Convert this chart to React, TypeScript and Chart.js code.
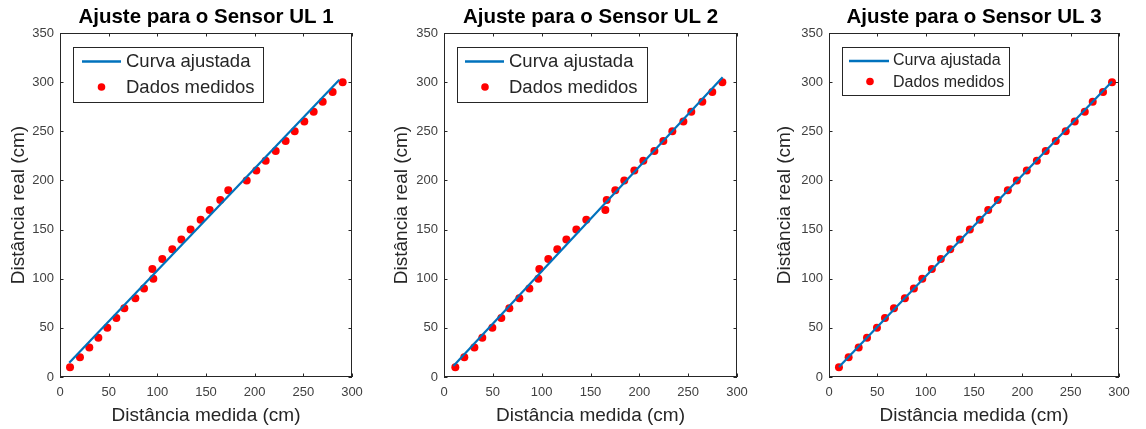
import React, { useEffect, useRef } from "react";
import { Chart, registerables } from "chart.js";

Chart.register(...registerables);

// ---- Data ----
const realDist = [10, 20, 30, 40, 50, 60, 70, 80, 90, 100, 110, 120, 130, 140, 150, 160, 170, 180, 190, 200, 210, 220, 230, 240, 250, 260, 270, 280, 290, 300];

const measured1 = [10.3, 20.5, 30.1, 39.4, 48.6, 57.9, 66.1, 77.4, 86.3, 95.9, 94.9, 105.1, 115.4, 124.7, 134.2, 144.5, 153.8, 164.7, 172.9, 191.8, 201.7, 211.3, 221.6, 231.8, 241.1, 251.0, 260.6, 269.9, 280.1, 290.4];
const measured2 = [11.6, 20.8, 31.1, 39.2, 49.5, 58.7, 66.9, 77.1, 87.4, 96.6, 97.6, 106.8, 116.0, 125.3, 135.5, 145.7, 165.2, 166.6, 175.4, 184.6, 194.9, 204.1, 215.4, 224.6, 233.8, 245.1, 253.2, 264.5, 274.7, 285.0];
const measured3 = [10.3, 20.3, 30.7, 39.3, 49.6, 57.9, 67.2, 78.5, 87.8, 96.5, 106.4, 115.7, 125.4, 135.4, 145.7, 156.0, 164.7, 174.6, 185.0, 194.3, 204.6, 215.0, 224.2, 234.6, 244.9, 254.2, 264.6, 272.8, 283.5, 292.8];

const fitX1 = [9.5, 287];
const fitY1 = [14.5, 302.5];
const fitX2 = [9.6, 285.3];
const fitY2 = [11.2, 305];
const fitX3 = [10.3, 292.8];
const fitY3 = [10.2, 300.7];

const titles = ["Ajuste para o Sensor UL 1", "Ajuste para o Sensor UL 2", "Ajuste para o Sensor UL 3"];
const xTitle = "Distância medida (cm)";
const yTitle = "Distância real (cm)";
const legendLabels = ["Curva ajustada", "Dados medidos"];
const xTicks = [0, 50, 100, 150, 200, 250, 300];
const yTicks = [0, 50, 100, 150, 200, 250, 300, 350];

const FONT = "'Liberation Sans', Arial, Helvetica, sans-serif";
const BLUE = "#0072BD";
const RED = "#FF0000";
const AXIS = "#262626";

type Panel = {
  left: number;
  width: number;
  yAxisW: number;
  padRight: number;
  yTitlePad: number;
  measured: number[];
  fitX: number[];
  fitY: number[];
  title: string;
  legend: { x: number; y: number; w: number; h: number; l1: number; l2: number; tx: number; r1: number; r2: number; mx: number; font: number };
};

const panels: Panel[] = [
  {
    left: 0, width: 380, yAxisW: 60, padRight: 28, yTitlePad: 7,
    measured: measured1, fitX: fitX1, fitY: fitY1, title: titles[0],
    legend: { x: 73, y: 47, w: 190, h: 55, l1: 82, l2: 121, tx: 126, r1: 61.5, r2: 88, mx: 101.5, font: 18.5 },
  },
  {
    left: 380, width: 380, yAxisW: 64, padRight: 23, yTitlePad: 10.6,
    measured: measured2, fitX: fitX2, fitY: fitY2, title: titles[1],
    legend: { x: 77, y: 47, w: 190, h: 55, l1: 85, l2: 124, tx: 129, r1: 61.5, r2: 88, mx: 105, font: 18.5 },
  },
  {
    left: 760, width: 386, yAxisW: 69, padRight: 27, yTitlePad: 13.3,
    measured: measured3, fitX: fitX3, fitY: fitY3, title: titles[2],
    legend: { x: 82, y: 47, w: 167, h: 48, l1: 89, l2: 129, tx: 133, r1: 61, r2: 82.5, mx: 110, font: 16 },
  },
];

function PanelChart({ p }: { p: Panel }) {
  const ref = useRef<HTMLCanvasElement | null>(null);
  useEffect(() => {
    if (!ref.current) return;
    const decor = {
      id: "decor",
      afterDatasetsDraw(chart: any) {
        const ctx = chart.ctx;
        const a = chart.chartArea;
        const xs = chart.scales.x;
        const ys = chart.scales.y;
        ctx.save();
        // box
        ctx.strokeStyle = AXIS;
        ctx.lineWidth = 1;
        ctx.strokeRect(Math.round(a.left) + 0.5, Math.round(a.top) + 0.5, Math.round(a.right - a.left) - 1, Math.round(a.bottom - a.top) - 1);
        // inward ticks
        const tl = 3.5;
        ctx.beginPath();
        xTicks.forEach((v) => {
          const px = Math.round(xs.getPixelForValue(v)) + 0.5;
          ctx.moveTo(px, a.bottom);
          ctx.lineTo(px, a.bottom - tl);
          ctx.moveTo(px, a.top);
          ctx.lineTo(px, a.top + tl);
        });
        yTicks.forEach((v) => {
          const py = Math.round(ys.getPixelForValue(v)) + 0.5;
          ctx.moveTo(a.left, py);
          ctx.lineTo(a.left + tl, py);
          ctx.moveTo(a.right, py);
          ctx.lineTo(a.right - tl, py);
        });
        ctx.stroke();
        // title
        ctx.fillStyle = "#000";
        ctx.font = `bold 20.5px ${FONT}`;
        ctx.textAlign = "center";
        ctx.textBaseline = "middle";
        ctx.fillText(p.title, (a.left + a.right) / 2, 17);
        // legend
        const L = p.legend;
        ctx.fillStyle = "#fff";
        ctx.fillRect(L.x, L.y, L.w, L.h);
        ctx.strokeStyle = AXIS;
        ctx.strokeRect(L.x + 0.5, L.y + 0.5, L.w, L.h);
        ctx.strokeStyle = BLUE;
        ctx.lineWidth = 2.5;
        ctx.beginPath();
        ctx.moveTo(L.l1, L.r1);
        ctx.lineTo(L.l2, L.r1);
        ctx.stroke();
        ctx.fillStyle = RED;
        ctx.beginPath();
        ctx.arc(L.mx, L.r2 - 1, 3.8, 0, Math.PI * 2);
        ctx.fill();
        ctx.fillStyle = AXIS;
        ctx.font = `${L.font}px ${FONT}`;
        ctx.textAlign = "left";
        ctx.fillText(legendLabels[0], L.tx, L.r1);
        ctx.fillText(legendLabels[1], L.tx, L.r2);
        ctx.restore();
      },
    };
    const chart = new Chart(ref.current, {
      type: "scatter",
      data: {
        datasets: [
          {
            label: legendLabels[0],
            data: p.fitX.map((x, i) => ({ x, y: p.fitY[i] })),
            showLine: true,
            borderColor: BLUE,
            borderWidth: 2.2,
            pointRadius: 0,
            fill: false,
          },
          {
            label: legendLabels[1],
            data: p.measured.map((x, i) => ({ x, y: realDist[i] })),
            showLine: false,
            backgroundColor: RED,
            borderColor: RED,
            borderWidth: 0,
            pointRadius: 4,
            pointStyle: "circle",
          },
        ],
      },
      options: {
        responsive: false,
        animation: false,
        events: [],
        layout: { padding: { top: 33, right: p.padRight, bottom: 0, left: 0 } },
        plugins: { legend: { display: false }, title: { display: false }, tooltip: { enabled: false } },
        scales: {
          x: {
            type: "linear",
            min: 0,
            max: 300,
            afterFit: (s: any) => { s.height = 52; },
            afterBuildTicks: (s: any) => { s.ticks = xTicks.map((v) => ({ value: v })); },
            grid: { display: false, drawTicks: false },
            border: { display: false },
            ticks: { color: "#404040", font: { family: FONT, size: 13 }, padding: 8, maxRotation: 0 },
            title: { display: true, text: xTitle, color: "#262626", font: { family: FONT, size: 19 }, padding: { top: 0, bottom: 2 } },
          },
          y: {
            type: "linear",
            min: 0,
            max: 350,
            afterFit: (s: any) => { s.width = p.yAxisW; },
            afterBuildTicks: (s: any) => { s.ticks = yTicks.map((v) => ({ value: v })); },
            grid: { display: false, drawTicks: false },
            border: { display: false },
            ticks: { color: "#404040", font: { family: FONT, size: 13 }, padding: 6 },
            title: { display: true, text: yTitle, color: "#262626", font: { family: FONT, size: 19 }, padding: { top: p.yTitlePad, bottom: 0 } },
          },
        },
      },
      plugins: [decor],
    } as any);
    return () => chart.destroy();
  }, [p]);
  return (
    <canvas
      ref={ref}
      width={p.width}
      height={429}
      style={{ position: "absolute", left: p.left, top: 0, width: p.width, height: 429 }}
    />
  );
}

export default function App() {
  return (
    <div style={{ position: "absolute", left: 0, top: 0, width: 1146, height: 429, background: "#fff", overflow: "hidden" }}>
      {panels.map((p, i) => (
        <PanelChart key={i} p={p} />
      ))}
    </div>
  );
}
